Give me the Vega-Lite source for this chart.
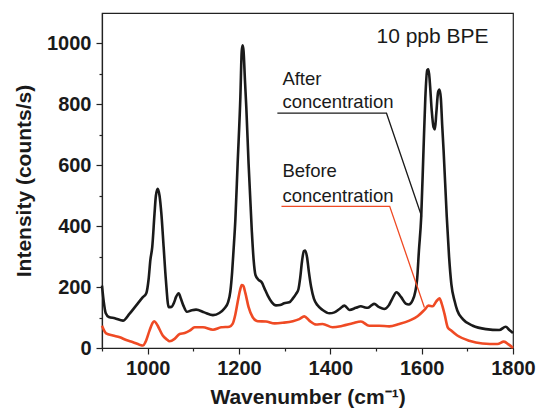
{
  "$schema": "https://vega.github.io/schema/vega-lite/v6.json",
  "width": 411,
  "height": 335,
  "autosize": "none",
  "padding": {"left": 102, "top": 13, "right": 26, "bottom": 61},
  "background": "white",
  "config": {
    "view": {"stroke": "#222", "strokeWidth": 1.2},
    "font": "Liberation Sans",
    "axis": {
      "grid": false,
      "domainColor": "#222",
      "domainWidth": 1.2,
      "tickColor": "#222",
      "tickWidth": 1.2,
      "labelColor": "#1a1a1a",
      "titleColor": "#1a1a1a",
      "labelFont": "Liberation Sans",
      "titleFont": "Liberation Sans",
      "labelFontWeight": "bold",
      "titleFontWeight": "bold",
      "labelFontSize": 20,
      "titleFontSize": 21,
      "labelFlush": false,
      "labelOverlap": false
    }
  },
  "datasets": {
    "spectra": [
      {"w":900,"i":205,"s":"After"},{"w":904,"i":150,"s":"After"},{"w":908,"i":115,"s":"After"},{"w":915,"i":102,"s":"After"},
      {"w":928,"i":98,"s":"After"},{"w":946,"i":90,"s":"After"},{"w":960,"i":112,"s":"After"},{"w":975,"i":140,"s":"After"},
      {"w":989,"i":166,"s":"After"},{"w":997,"i":180,"s":"After"},{"w":1002,"i":225,"s":"After"},{"w":1006,"i":290,"s":"After"},
      {"w":1010,"i":331,"s":"After"},{"w":1015,"i":441,"s":"After"},{"w":1018,"i":500,"s":"After"},{"w":1022,"i":523,"s":"After"},
      {"w":1026,"i":500,"s":"After"},{"w":1030,"i":441,"s":"After"},{"w":1035,"i":331,"s":"After"},{"w":1040,"i":221,"s":"After"},
      {"w":1046,"i":134,"s":"After"},{"w":1052,"i":135,"s":"After"},{"w":1058,"i":150,"s":"After"},{"w":1062,"i":167,"s":"After"},
      {"w":1068,"i":180,"s":"After"},{"w":1072,"i":165,"s":"After"},{"w":1078,"i":140,"s":"After"},{"w":1086,"i":119,"s":"After"},
      {"w":1095,"i":123,"s":"After"},{"w":1106,"i":126,"s":"After"},{"w":1124,"i":117,"s":"After"},{"w":1143,"i":108,"s":"After"},
      {"w":1157,"i":115,"s":"After"},{"w":1168,"i":130,"s":"After"},{"w":1176,"i":150,"s":"After"},{"w":1181,"i":185,"s":"After"},
      {"w":1185,"i":250,"s":"After"},{"w":1188,"i":320,"s":"After"},{"w":1192,"i":420,"s":"After"},{"w":1197,"i":605,"s":"After"},
      {"w":1203,"i":824,"s":"After"},{"w":1206,"i":975,"s":"After"},{"w":1208,"i":994,"s":"After"},{"w":1210,"i":975,"s":"After"},
      {"w":1213,"i":880,"s":"After"},{"w":1216,"i":790,"s":"After"},{"w":1221,"i":605,"s":"After"},{"w":1228,"i":386,"s":"After"},
      {"w":1232,"i":290,"s":"After"},{"w":1236,"i":240,"s":"After"},{"w":1242,"i":225,"s":"After"},{"w":1250,"i":215,"s":"After"},
      {"w":1256,"i":195,"s":"After"},{"w":1263,"i":172,"s":"After"},{"w":1272,"i":150,"s":"After"},{"w":1281,"i":140,"s":"After"},
      {"w":1290,"i":141,"s":"After"},{"w":1299,"i":147,"s":"After"},{"w":1310,"i":150,"s":"After"},{"w":1318,"i":163,"s":"After"},
      {"w":1325,"i":178,"s":"After"},{"w":1330,"i":192,"s":"After"},{"w":1334,"i":230,"s":"After"},{"w":1338,"i":285,"s":"After"},
      {"w":1342,"i":318,"s":"After"},{"w":1345,"i":320,"s":"After"},{"w":1349,"i":298,"s":"After"},{"w":1353,"i":250,"s":"After"},
      {"w":1358,"i":200,"s":"After"},{"w":1364,"i":162,"s":"After"},{"w":1372,"i":140,"s":"After"},{"w":1383,"i":125,"s":"After"},
      {"w":1398,"i":114,"s":"After"},{"w":1409,"i":117,"s":"After"},{"w":1420,"i":128,"s":"After"},{"w":1431,"i":139,"s":"After"},
      {"w":1442,"i":125,"s":"After"},{"w":1456,"i":132,"s":"After"},{"w":1467,"i":137,"s":"After"},{"w":1476,"i":133,"s":"After"},
      {"w":1482,"i":132,"s":"After"},{"w":1490,"i":140,"s":"After"},{"w":1496,"i":145,"s":"After"},{"w":1507,"i":134,"s":"After"},
      {"w":1518,"i":128,"s":"After"},{"w":1528,"i":140,"s":"After"},{"w":1535,"i":160,"s":"After"},{"w":1545,"i":183,"s":"After"},
      {"w":1555,"i":167,"s":"After"},{"w":1565,"i":146,"s":"After"},{"w":1572,"i":143,"s":"After"},{"w":1580,"i":156,"s":"After"},
      {"w":1586,"i":185,"s":"After"},{"w":1590,"i":225,"s":"After"},{"w":1594,"i":320,"s":"After"},{"w":1599,"i":430,"s":"After"},
      {"w":1604,"i":649,"s":"After"},{"w":1608,"i":820,"s":"After"},{"w":1612,"i":912,"s":"After"},{"w":1615,"i":915,"s":"After"},
      {"w":1618,"i":870,"s":"After"},{"w":1622,"i":780,"s":"After"},{"w":1626,"i":725,"s":"After"},{"w":1629,"i":718,"s":"After"},
      {"w":1632,"i":770,"s":"After"},{"w":1636,"i":840,"s":"After"},{"w":1639,"i":849,"s":"After"},{"w":1642,"i":820,"s":"After"},
      {"w":1645,"i":730,"s":"After"},{"w":1648,"i":649,"s":"After"},{"w":1655,"i":430,"s":"After"},{"w":1660,"i":300,"s":"After"},
      {"w":1665,"i":210,"s":"After"},{"w":1672,"i":155,"s":"After"},{"w":1678,"i":123,"s":"After"},{"w":1690,"i":95,"s":"After"},
      {"w":1712,"i":73,"s":"After"},{"w":1741,"i":62,"s":"After"},{"w":1770,"i":59,"s":"After"},{"w":1784,"i":70,"s":"After"},
      {"w":1792,"i":59,"s":"After"},{"w":1800,"i":49,"s":"After"},
      {"w":900,"i":73,"s":"Before"},{"w":909,"i":48,"s":"Before"},{"w":924,"i":41,"s":"Before"},{"w":939,"i":35,"s":"Before"},
      {"w":953,"i":26,"s":"Before"},{"w":968,"i":19,"s":"Before"},{"w":982,"i":11,"s":"Before"},{"w":990,"i":8,"s":"Before"},
      {"w":995,"i":19,"s":"Before"},{"w":1004,"i":57,"s":"Before"},{"w":1010,"i":80,"s":"Before"},{"w":1014,"i":88,"s":"Before"},
      {"w":1018,"i":83,"s":"Before"},{"w":1022,"i":73,"s":"Before"},{"w":1033,"i":41,"s":"Before"},{"w":1042,"i":28,"s":"Before"},
      {"w":1048,"i":22,"s":"Before"},{"w":1059,"i":30,"s":"Before"},{"w":1070,"i":46,"s":"Before"},{"w":1081,"i":49,"s":"Before"},
      {"w":1092,"i":57,"s":"Before"},{"w":1103,"i":68,"s":"Before"},{"w":1121,"i":68,"s":"Before"},{"w":1143,"i":60,"s":"Before"},
      {"w":1161,"i":68,"s":"Before"},{"w":1179,"i":70,"s":"Before"},{"w":1186,"i":79,"s":"Before"},{"w":1192,"i":110,"s":"Before"},
      {"w":1197,"i":150,"s":"Before"},{"w":1202,"i":188,"s":"Before"},{"w":1206,"i":207,"s":"Before"},{"w":1209,"i":205,"s":"Before"},
      {"w":1214,"i":180,"s":"Before"},{"w":1221,"i":134,"s":"Before"},{"w":1230,"i":101,"s":"Before"},{"w":1241,"i":88,"s":"Before"},
      {"w":1259,"i":87,"s":"Before"},{"w":1278,"i":81,"s":"Before"},{"w":1296,"i":83,"s":"Before"},{"w":1318,"i":88,"s":"Before"},
      {"w":1332,"i":95,"s":"Before"},{"w":1343,"i":104,"s":"Before"},{"w":1354,"i":90,"s":"Before"},{"w":1369,"i":77,"s":"Before"},
      {"w":1383,"i":79,"s":"Before"},{"w":1405,"i":68,"s":"Before"},{"w":1427,"i":73,"s":"Before"},{"w":1449,"i":81,"s":"Before"},
      {"w":1467,"i":87,"s":"Before"},{"w":1485,"i":73,"s":"Before"},{"w":1507,"i":73,"s":"Before"},{"w":1529,"i":71,"s":"Before"},
      {"w":1551,"i":79,"s":"Before"},{"w":1573,"i":90,"s":"Before"},{"w":1591,"i":104,"s":"Before"},{"w":1606,"i":125,"s":"Before"},
      {"w":1615,"i":139,"s":"Before"},{"w":1624,"i":137,"s":"Before"},{"w":1632,"i":153,"s":"Before"},{"w":1639,"i":163,"s":"Before"},
      {"w":1644,"i":145,"s":"Before"},{"w":1650,"i":112,"s":"Before"},{"w":1657,"i":68,"s":"Before"},{"w":1664,"i":58,"s":"Before"},
      {"w":1678,"i":41,"s":"Before"},{"w":1704,"i":24,"s":"Before"},{"w":1733,"i":15,"s":"Before"},{"w":1766,"i":13,"s":"Before"},
      {"w":1780,"i":21,"s":"Before"},{"w":1791,"i":11,"s":"Before"},{"w":1800,"i":0,"s":"Before"}
    ],
    "leaders": [
      {"w":1284,"i":771,"s":"After","o":1},{"w":1523,"i":771,"s":"After","o":2},{"w":1600,"i":432,"s":"After","o":3},
      {"w":1293,"i":465,"s":"Before","o":1},{"w":1530,"i":465,"s":"Before","o":2},{"w":1606,"i":133,"s":"Before","o":3}
    ],
    "notes": [
      {"w":1501,"i":1001,"t":"10 ppb BPE","f":21},
      {"w":1295,"i":863,"t":"After","f":18.5},
      {"w":1295,"i":787,"t":"concentration","f":18.5},
      {"w":1295,"i":560,"t":"Before","f":18.5},
      {"w":1295,"i":481,"t":"concentration","f":18.5}
    ]
  },
  "encoding": {
    "x": {
      "field": "w", "type": "quantitative",
      "scale": {"domain": [900, 1800], "nice": false, "zero": false},
      "axis": {
        "values": [900,1000,1100,1200,1300,1400,1500,1600,1700,1800],
        "labelExpr": "datum.value % 200 == 0 ? datum.label : ''",
        "format": "d",
        "tickSize": {"condition": {"test": "datum.value % 200 != 0", "value": 3}, "value": 6},
        "labelPadding": 4,
        "title": "Wavenumber (cm⁻¹)",
        "titlePadding": 8
      }
    },
    "y": {
      "field": "i", "type": "quantitative",
      "scale": {"domain": [0, 1100], "nice": false},
      "axis": {
        "values": [0,100,200,300,400,500,600,700,800,900,1000],
        "labelExpr": "datum.value % 200 == 0 ? datum.label : ''",
        "format": "d",
        "tickSize": {"condition": {"test": "datum.value % 200 != 0", "value": 3}, "value": 6},
        "labelPadding": 5,
        "title": "Intensity (counts/s)",
        "titlePadding": 12
      }
    }
  },
  "layer": [
    {
      "data": {"name": "spectra"},
      "mark": {"type": "line", "strokeWidth": 2.6, "interpolate": "monotone"},
      "encoding": {
        "color": {"field": "s", "type": "nominal", "scale": {"domain": ["After", "Before"], "range": ["#1a1a1a", "#ef4a24"]}, "legend": null}
      }
    },
    {
      "data": {"name": "leaders"},
      "mark": {"type": "line", "strokeWidth": 1.3},
      "encoding": {
        "color": {"field": "s", "type": "nominal", "legend": null},
        "order": {"field": "o", "type": "quantitative"}
      }
    },
    {
      "data": {"name": "notes"},
      "mark": {"type": "text", "align": "left", "baseline": "alphabetic", "font": "Liberation Sans", "color": "#1a1a1a"},
      "encoding": {
        "text": {"field": "t"},
        "size": {"field": "f", "type": "quantitative", "scale": null}
      }
    }
  ]
}
